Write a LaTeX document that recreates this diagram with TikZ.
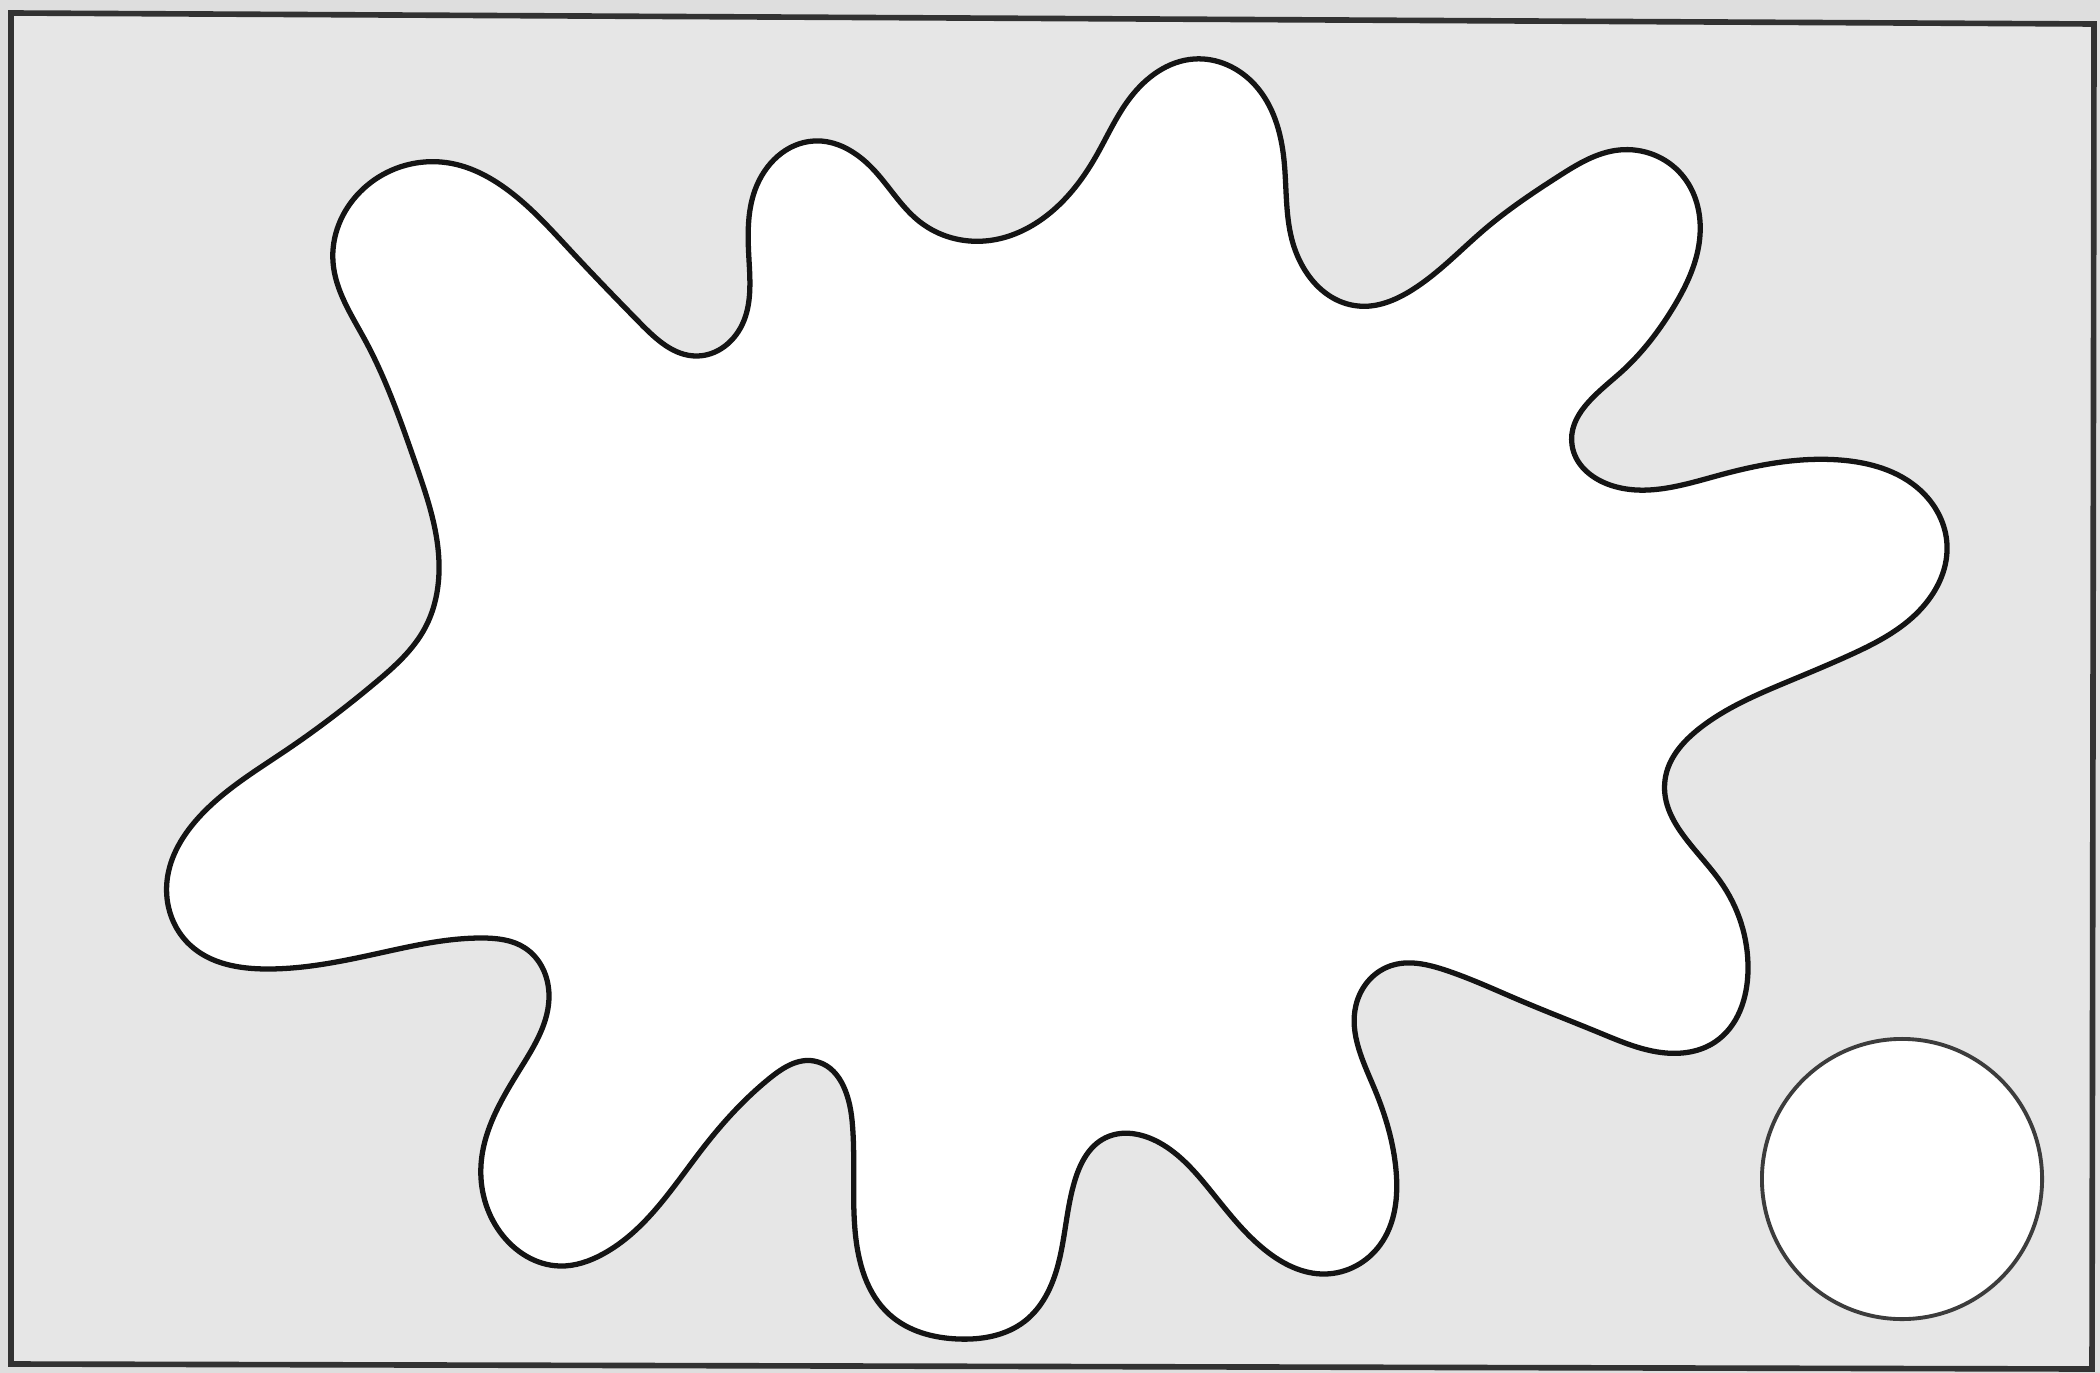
\documentclass[tikz,border=0pt]{standalone}
\usepackage{xcolor}
\usepackage{tikz}
\usetikzlibrary{hobby}
\definecolor{mypaper}{RGB}{222,222,222}
\definecolor{mygray}{RGB}{230,230,230}
\definecolor{myframe}{RGB}{50,50,50}
\definecolor{mydark}{RGB}{20,20,20}
\definecolor{myring}{RGB}{60,60,60}
\tikzset{
  frame/.style={draw=myframe, fill=mygray, line width=1.6pt, line join=miter},
  blob/.style={draw=mydark, fill=white, line width=1.5pt, line join=round,
    use Hobby shortcut, closed=true},
  ring/.style={draw=myring, fill=white, line width=1.1pt}
}

\begin{document}
\begin{tikzpicture}[x=0.01cm, y=-0.01cm]
  \fill[mypaper] (0,0) rectangle (2100,1373);
  \useasboundingbox (0,0) rectangle (2100,1373);
  \draw[frame] (11,13) -- (2094,24) -- (2092,1369) -- (11,1364) -- cycle;

  \draw[blob] (449,163) .. (505,188) .. (570,250) .. (640,323) .. (697,356)
    .. (742,325) .. (749,260) .. (755,190) .. (814,141) .. (872,168)
    .. (920,222) .. (985,241) .. (1050,213) .. (1095,158) .. (1130,98)
    .. (1194,59) .. (1255,85) .. (1284,160) .. (1292,240) .. (1358,306)
    .. (1412,290) .. (1485,229) .. (1559,176) .. (1619,150) .. (1682,175)
    .. (1700,235) .. (1673,308) .. (1619,374) .. (1572,445) .. (1610,485)
    .. (1720,475) .. (1840,460) .. (1920,490) .. (1947,545) .. (1915,615)
    .. (1850,655) .. (1787,682) .. (1700,728) .. (1665,780) .. (1720,881)
    .. (1748,970) .. (1715,1042) .. (1666,1053) .. (1600,1033) .. (1519,1000)
    .. (1445,970) .. (1390,966) .. (1356,1005) .. (1375,1090) .. (1396,1170)
    .. (1380,1245) .. (1325,1274) .. (1265,1250) .. (1210,1190)
    .. (1160,1143) .. (1105,1138) .. (1075,1180) .. (1058,1265) .. (1025,1321)
    .. (958,1339) .. (890,1315) .. (855,1230) .. (852,1120) .. (814,1061)
    .. (770,1078) .. (703,1148) .. (603,1254) .. (560,1266) .. (500,1232)
    .. (481,1165) .. (522,1066) .. (549,995) .. (525,948) .. (482,938)
    .. (380,953) .. (268,969) .. (190,945) .. (167,881) .. (201,815)
    .. (288,749) .. (375,683) .. (425,628) .. (439,572) .. (415,462)
    .. (365,340) .. (333,262) .. (360,192);

  \draw[ring] (1902,1179) circle (1.4cm);
\end{tikzpicture}
\end{document}
